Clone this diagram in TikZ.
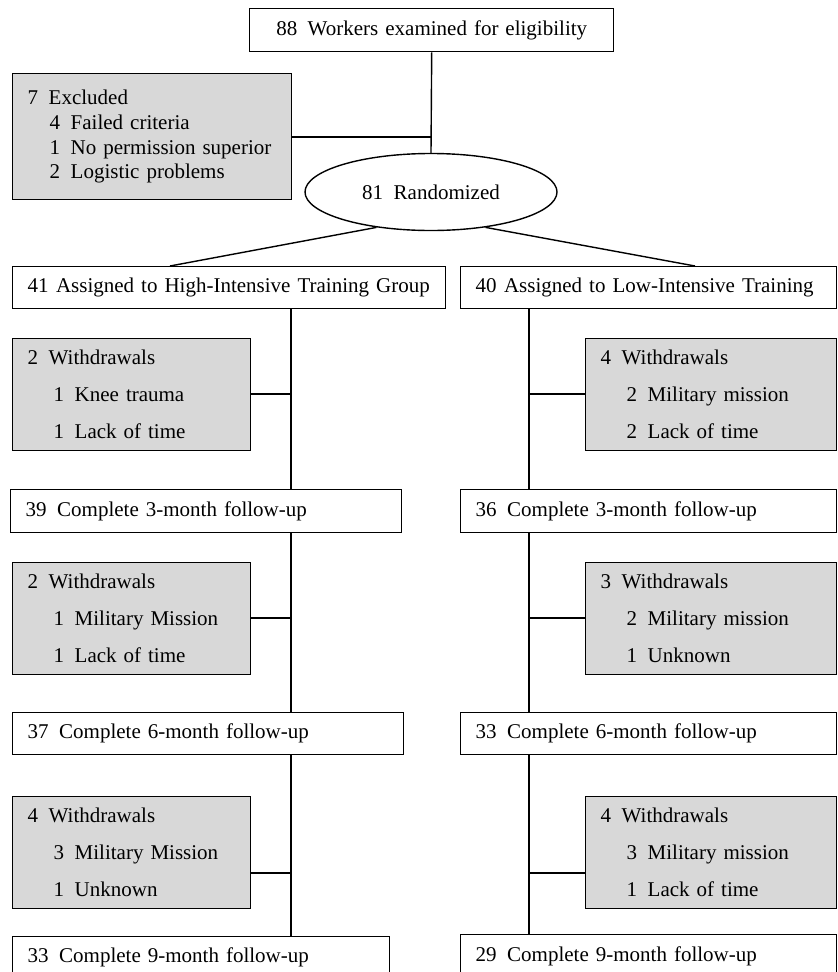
\documentclass[tikz,border=0pt]{standalone}
\usepackage{fontspec}
\setmainfont{Liberation Serif}
\usetikzlibrary{shapes.geometric}
\definecolor{boxgray}{RGB}{216,216,216}
\newcommand\gapx{\hspace{0.5em}}
\newcommand\indx{\hspace*{26pt}}
\tikzset{
  ln/.style={line width=1.4pt},
  bx/.style={draw, line width=1.4pt, inner xsep=15pt, inner ysep=0pt, align=left,
    anchor=north west, font=\fontsize{21}{25}\selectfont},
  one/.style={bx, minimum height=43pt},
  wd/.style={bx, fill=boxgray, minimum height=112pt, font=\fontsize{21}{37}\selectfont},
}
\begin{document}
\begin{tikzpicture}[x=1pt,y=-1pt]
\useasboundingbox (0,0) rectangle (838,972);
\clip (0,0) rectangle (838,972);
% top
\node[one, align=center, text width=334pt] (top) at (249,8) {88\gapx Workers examined for eligibility};
\node[bx, fill=boxgray, text width=249pt, minimum height=126pt, font=\fontsize{21}{24.7}\selectfont] (excl) at (12,73)
  {7\gapx Excluded\\ \hspace*{22pt}4\gapx Failed criteria\\ \hspace*{22pt}1\gapx No permission superior\\ \hspace*{22pt}2\gapx Logistic problems};
\node[draw, ln, ellipse, minimum width=252pt, minimum height=77pt, inner sep=0pt, font=\fontsize{21}{25}\selectfont] (rand) at (431,192) {81\gapx Randomized};
% assigned
\node[one, text width=403pt, minimum height=42pt] (a41) at (12,266) {41\hspace{0.35em}Assigned to High-Intensive Training Group};
\node[one, text width=346pt, minimum height=42pt] (a40) at (460,266) {40\hspace{0.35em}Assigned to Low-Intensive Training};
% withdrawals 1
\node[wd, text width=208pt] (wl1) at (12,338) {2\gapx Withdrawals\\ \indx 1\gapx Knee trauma\\ \indx 1\gapx Lack of time};
\node[wd, text width=221pt] (wr1) at (585,338) {4\gapx Withdrawals\\ \indx 2\gapx Military mission\\ \indx 2\gapx Lack of time};
% 3-month
\node[one, text width=361pt] (c39) at (10,489) {39\gapx Complete 3-month follow-up};
\node[one, text width=346pt] (c36) at (460,489) {36\gapx Complete 3-month follow-up};
% withdrawals 2
\node[wd, text width=208pt] (wl2) at (12,562) {2\gapx Withdrawals\\ \indx 1\gapx Military Mission\\ \indx 1\gapx Lack of time};
\node[wd, text width=221pt] (wr2) at (585,562) {3\gapx Withdrawals\\ \indx 2\gapx Military mission\\ \indx 1\gapx Unknown};
% 6-month
\node[one, text width=361pt, minimum height=42pt] (c37) at (12,712) {37\gapx Complete 6-month follow-up};
\node[one, text width=346pt, minimum height=42pt] (c33r) at (460,712) {33\gapx Complete 6-month follow-up};
% withdrawals 3
\node[wd, text width=208pt] (wl3) at (12,796) {4\gapx Withdrawals\\ \indx 3\gapx Military Mission\\ \indx 1\gapx Unknown};
\node[wd, text width=221pt] (wr3) at (585,796) {4\gapx Withdrawals\\ \indx 3\gapx Military mission\\ \indx 1\gapx Lack of time};
% 9-month
\node[one, text width=347pt, minimum height=42pt] (c33) at (12,936) {33\gapx Complete 9-month follow-up};
\node[one, text width=346pt, minimum height=44pt] (c29) at (460,934) {29\gapx Complete 9-month follow-up};
% helper coordinates
\coordinate (xl) at (291,0);
\coordinate (xr) at (529,0);
\coordinate (jx) at (431,137);
\coordinate (tl) at (170,0);
\coordinate (tr) at (695,0);
\coordinate (y1) at (0,394);
\coordinate (y2) at (0,618);
\coordinate (y3) at (0,873);
% connectors
\draw[ln] (top.south) -- (rand.north);
\draw[ln] (excl.east |- jx) -- (jx);
\draw[ln] (rand.213) -- (tl |- a41.north);
\draw[ln] (rand.327) -- (tr |- a40.north);
\draw[ln] (xl |- a41.south) -- (xl |- c39.north);
\draw[ln] (xl |- c39.south) -- (xl |- c37.north);
\draw[ln] (xl |- c37.south) -- (xl |- c33.north);
\draw[ln] (xr |- a40.south) -- (xr |- c36.north);
\draw[ln] (xr |- c36.south) -- (xr |- c33r.north);
\draw[ln] (xr |- c33r.south) -- (xr |- c29.north);
\draw[ln] (wl1.east |- y1) -- (xl |- y1);
\draw[ln] (wl2.east |- y2) -- (xl |- y2);
\draw[ln] (wl3.east |- y3) -- (xl |- y3);
\draw[ln] (wr1.west |- y1) -- (xr |- y1);
\draw[ln] (wr2.west |- y2) -- (xr |- y2);
\draw[ln] (wr3.west |- y3) -- (xr |- y3);
\end{tikzpicture}
\end{document}
